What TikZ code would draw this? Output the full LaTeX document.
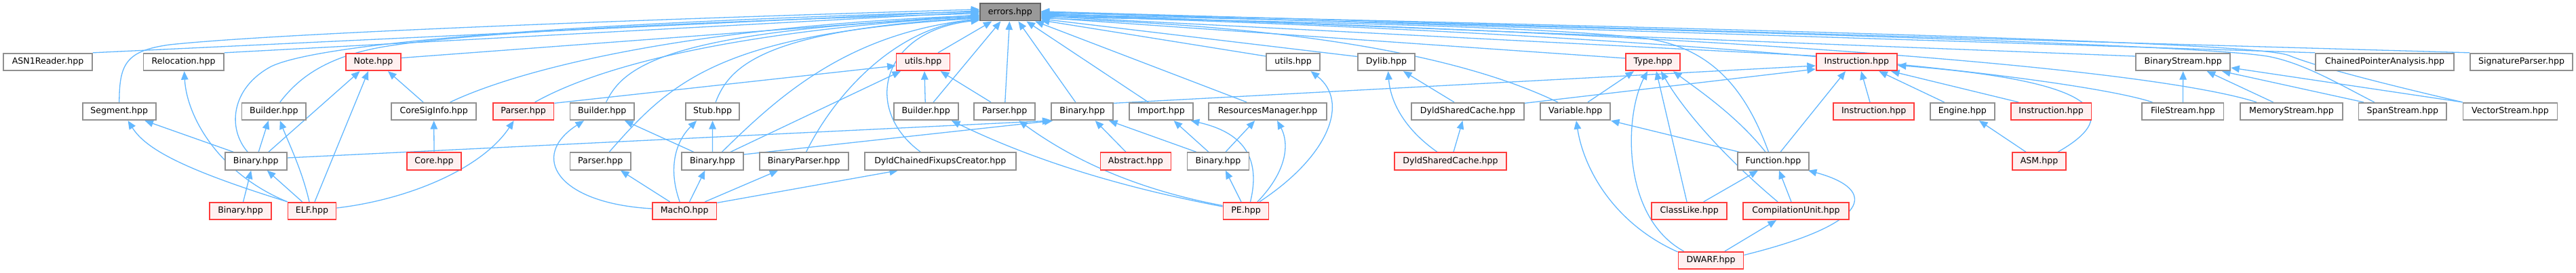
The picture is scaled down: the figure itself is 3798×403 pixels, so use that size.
\documentclass[tikz,border=0pt]{standalone}
\usepackage{fontspec}
\setmainfont{DejaVu Sans}
\usetikzlibrary{arrows.meta,calc}
\pgfdeclarelayer{bg}
\pgfsetlayers{bg,main}
\definecolor{edgeblue}{HTML}{63B8FF}
\definecolor{boxgrey}{HTML}{909090}
\definecolor{boxred}{HTML}{FF3B3B}
\definecolor{boxpink}{HTML}{FFF0F0}
\definecolor{rootfill}{HTML}{999999}
\definecolor{rootline}{HTML}{666666}
\newcommand{\dgfont}{\fontsize{12.6}{15}\selectfont}
\begin{document}
\begin{tikzpicture}[x=1pt,y=-1pt,
  box/.style={draw=boxgrey,line width=1.8pt,fill=white,minimum height=25.5pt,inner sep=0pt,font=\dgfont,text=black},
  redbox/.style={box,draw=boxred,fill=boxpink},
  rootbox/.style={box,draw=rootline,fill=rootfill},
  dep/.style={draw=edgeblue,line width=1.3pt,-{Triangle[length=12.5pt,width=10.5pt]}}]
\useasboundingbox (0,0) rectangle (3798,403);
% row 1
\node[rootbox,minimum width=88.7pt] (errors) at (1489.4,17.85) {errors.hpp};
% row 2
\node[box,minimum width=131pt] (asn) at (70.5,91.5) {ASN1Reader.hpp};
\node[box,minimum width=118.6pt] (reloc) at (270.7,91.5) {Relocation.hpp};
\node[redbox,minimum width=81pt] (note) at (550.5,91.5) {Note.hpp};
\node[redbox,minimum width=79pt] (utilsR) at (1361,91.5) {utils.hpp};
\node[box,minimum width=78.7pt] (utilsP) at (1906.6,91.5) {utils.hpp};
\node[box,minimum width=84pt] (dylib) at (2044,91.5) {Dylib.hpp};
\node[redbox,minimum width=80pt] (type) at (2437,91.5) {Type.hpp};
\node[redbox,minimum width=119.2pt] (instr) at (2737.3,91.5) {Instruction.hpp};
\node[box,minimum width=139.3pt] (bstream) at (3218.7,91.5) {BinaryStream.hpp};
\node[box,minimum width=204pt] (chained) at (3516,91.5) {ChainedPointerAnalysis.hpp};
\node[box,minimum width=151pt] (sigp) at (3717.5,91.5) {SignatureParser.hpp};
% row 3
\node[box,minimum width=108pt] (segment) at (175.8,164.5) {Segment.hpp};
\node[box,minimum width=94.5pt] (builderE) at (403.8,164.5) {Builder.hpp};
\node[box,minimum width=125pt] (coresig) at (639.7,164.5) {CoreSigInfo.hpp};
\node[redbox,minimum width=89.6pt] (parserR) at (771.6,164.5) {Parser.hpp};
\node[box,minimum width=94.5pt] (builderM) at (887.7,164.5) {Builder.hpp};
\node[box,minimum width=79pt] (stub) at (1050.6,164.5) {Stub.hpp};
\node[box,minimum width=95pt] (builderP) at (1365.2,164.5) {Builder.hpp};
\node[box,minimum width=90pt] (parserP) at (1481.3,164.5) {Parser.hpp};
\node[box,minimum width=91pt] (binA) at (1595.7,164.5) {Binary.hpp};
\node[box,minimum width=93.7pt] (import) at (1712,164.5) {Import.hpp};
\node[box,minimum width=173.5pt] (resmgr) at (1869.1,164.5) {ResourcesManager.hpp};
\node[box,minimum width=165.8pt] (dscP) at (2164,164.5) {DyldSharedCache.hpp};
\node[box,minimum width=102.8pt] (variable) at (2322.7,164.5) {Variable.hpp};
\node[redbox,minimum width=119pt] (instrA) at (2762.7,164.5) {Instruction.hpp};
\node[box,minimum width=94.6pt] (engine) at (2893.3,164.5) {Engine.hpp};
\node[redbox,minimum width=118.8pt] (instrB) at (3024.1,164.5) {Instruction.hpp};
\node[box,minimum width=120.2pt] (filestream) at (3218.4,164.5) {FileStream.hpp};
\node[box,minimum width=151pt] (memstream) at (3378.5,164.5) {MemoryStream.hpp};
\node[box,minimum width=129.5pt] (spanstream) at (3542.3,164.5) {SpanStream.hpp};
\node[box,minimum width=139pt] (vecstream) at (3701,164.5) {VectorStream.hpp};
% row 4
\node[box,minimum width=91pt] (binE) at (377.2,238) {Binary.hpp};
\node[redbox,minimum width=80pt] (core) at (640,238) {Core.hpp};
\node[box,minimum width=89.6pt] (parserM) at (885.2,238) {Parser.hpp};
\node[box,minimum width=91pt] (binM) at (1050.4,238) {Binary.hpp};
\node[box,minimum width=130.8pt] (bparser) at (1185.2,238) {BinaryParser.hpp};
\node[box,minimum width=222.6pt] (dcfc) at (1386.3,238) {DyldChainedFixupsCreator.hpp};
\node[redbox,minimum width=104pt] (abstract) at (1674.4,238) {Abstract.hpp};
\node[box,minimum width=91pt] (binP) at (1795.9,238) {Binary.hpp};
\node[redbox,minimum width=165.4pt] (dscR) at (2138.5,238) {DyldSharedCache.hpp};
\node[box,minimum width=105pt] (function) at (2614.5,238) {Function.hpp};
\node[redbox,minimum width=79pt] (asm) at (3006.5,238) {ASM.hpp};
% row 5
\node[redbox,minimum width=91pt] (binR) at (354.6,311.5) {Binary.hpp};
\node[redbox,minimum width=71pt] (elf) at (460,311.5) {ELF.hpp};
\node[redbox,minimum width=94.5pt] (macho) at (1009.2,311.5) {MachO.hpp};
\node[redbox,minimum width=67pt] (pe) at (1837,311.5) {PE.hpp};
\node[redbox,minimum width=110.7pt] (classlike) at (2490.7,311.5) {ClassLike.hpp};
\node[redbox,minimum width=155.8pt] (cu) at (2648,311.5) {CompilationUnit.hpp};
% row 6
\node[redbox,minimum width=96pt] (dwarf) at (2522.5,384.5) {DWARF.hpp};

\begin{pgfonlayer}{bg}
\fill[white] (0,0) rectangle (3798,403);
% ---- into errors, from the left
\draw[dep] (asn.north east) -- ($(errors.west)+(0,-2)$);
\draw[dep] (reloc.north east) -- ($(errors.west)+(0,0)$);
\draw[dep] ($(note.east)+(0,-6)$) -- ($(errors.west)+(0,4)$);
\draw[dep] (segment.north) .. controls (176,95) and (185,75) .. (250,66) .. controls (400,50) and (900,30) .. ($(errors.west)+(0,-4)$);
\draw[dep] ($(binE.north)+(-12,0)$) .. controls (335,190) and (340,130) .. (400,98) .. controls (480,60) and (900,32) .. ($(errors.west)+(0,-1)$);
\draw[dep] ($(builderE.north)+(9,0)$) .. controls (440,115) and (480,85) .. (560,70) .. controls (700,45) and (1100,30) .. ($(errors.west)+(0,2)$);
\draw[dep] ($(coresig.north)+(24,0)$) .. controls (760,105) and (1000,40) .. ($(errors.west)+(0,5)$);
\draw[dep] ($(parserR.north)+(17,0)$) .. controls (870,105) and (1050,48) .. ($(errors.west)+(0,6)$);
\draw[dep] ($(builderM.north)+(6,0)$) .. controls (920,95) and (990,45) .. ($(errors.west)+(0,7)$);
\draw[dep] ($(stub.north)+(4.5,0)$) .. controls (1075,100) and (1120,45) .. ($(errors.west)+(0,8)$);
\draw[dep] ($(parserM.north)+(13,0)$) .. controls (990,120) and (1060,50) .. ($(errors.west)+(0,9)$);
\draw[dep] ($(binM.north)+(14,0)$) .. controls (1150,140) and (1250,50) .. ($(errors.west)+(0,10)$);
\draw[dep] ($(bparser.north)+(3.4,0)$) .. controls (1230,140) and (1320,40) .. ($(errors.west)+(0,11)$);
\draw[dep] ($(dcfc.north)+(-29,0)$) .. controls (1270,160) and (1300,45) .. ($(errors.west)+(0,12)$);
% ---- into errors, from below
\draw[dep] ($(utilsR.north)+(22,0)$) -- ($(errors.south)+(-27,0)$);
\draw[dep] ($(builderP.north)+(11,0)$) -- ($(errors.south)+(-14,0)$);
\draw[dep] ($(parserP.north)+(0.5,0)$) -- ($(errors.south)+(-1,0)$);
\draw[dep] ($(binA.north)+(-10,0)$) -- ($(errors.south)+(12,0)$);
\draw[dep] ($(import.north)+(-19,0)$) -- ($(errors.south)+(24,0)$);
\draw[dep] ($(resmgr.north)+(-31,0)$) -- ($(errors.south)+(37,0)$);
% ---- into errors, from the right
\draw[dep] ($(utilsP.west)+(0,-8.5)$) -- ($(errors.east)+(0,12)$);
\draw[dep] ($(dylib.west)+(0,-8)$) -- ($(errors.east)+(0,10)$);
\draw[dep] ($(variable.north)+(-26,0)$) .. controls (2170,90) and (1950,40) .. ($(errors.east)+(0,9)$);
\draw[dep] ($(type.west)+(0,-5.5)$) -- ($(errors.east)+(0,8)$);
\draw[dep] ($(function.north)+(-7,0)$) .. controls (2575,135) and (2525,68) .. (2420,56) .. controls (2250,37) and (1800,30) .. ($(errors.east)+(0,7)$);
\draw[dep] ($(instr.west)+(0,-9)$) -- ($(errors.east)+(0,6)$);
\draw[dep] ($(bstream.west)+(0,-8.5)$) -- ($(errors.east)+(0,2)$);
\draw[dep] (chained.north west) -- ($(errors.east)+(0,0)$);
\draw[dep] (sigp.north west) -- ($(errors.east)+(0,-1)$);
\draw[dep] ($(filestream.north)+(-45,0)$) .. controls (3080,120) and (2600,55) .. ($(errors.east)+(0,5)$);
\draw[dep] ($(memstream.north)+(-51.5,0)$) .. controls (3200,110) and (2700,55) .. ($(errors.east)+(0,4)$);
\draw[dep] ($(spanstream.north)+(-41.7,0)$) .. controls (3450,125) and (3400,95) .. (3348,84) .. controls (3300,74) and (3000,55) .. ($(errors.east)+(0,3)$);
\draw[dep] (vecstream.north west) .. controls (3520,125) and (3420,100) .. (3375,82) .. controls (3340,68) and (3000,52) .. ($(errors.east)+(0,1)$);
% ---- ELF group
\draw[dep] ($(binE.north)+(-33,0)$) -- ($(segment.south)+(37.7,0)$);
\draw[dep] ($(binE.north)+(4,0)$) -- ($(builderE.south)+(-8,0)$);
\draw[dep] ($(binE.north)+(18.7,0)$) -- ($(note.south)+(-20,0)$);
\draw[dep] ($(elf.north)+(-14.4,0)$) -- ($(binE.south)+(16.6,0)$);
\draw[dep] ($(elf.north)+(4,0)$) -- ($(note.south)+(-7.5,0)$);
\draw[dep] ($(binR.north)+(4,0)$) -- ($(binE.south)+(-7,0)$);
\draw[dep] ($(coresig.north)+(-15.7,0)$) -- ($(note.south)+(21.5,0)$);
\draw[dep] (core.north) -- (coresig.south);
\draw[dep] ($(binE.east)+(0,-5)$) -- (binA.south west);
\draw[dep] (elf.north west) .. controls (270,250) and (215,220) .. ($(segment.south)+(12.8,0)$);
\draw[dep] (elf.north west) .. controls (320,255) and (275,170) .. ($(reloc.south)+(1,0)$);
\draw[dep] ($(elf.north)+(-4,0)$) .. controls (445,250) and (425,210) .. ($(builderE.south)+(9,0)$);
\draw[dep] ($(elf.east)+(0,-4.5)$) .. controls (600,295) and (710,250) .. ($(parserR.south)+(-14,0)$);
\draw[dep] ($(parserR.north east)+(0,1.5)$) -- ($(utilsR.west)+(0,5.5)$);
% ---- MachO group
\draw[dep] ($(macho.west)+(0,-3.5)$) .. controls (820,300) and (780,230) .. ($(builderM.south)+(-26.7,0)$);
\draw[dep] ($(binM.north)+(-27.6,0)$) -- ($(builderM.south)+(33.3,0)$);
\draw[dep] ($(macho.north)+(-7,0)$) .. controls (985,250) and (995,210) .. ($(stub.south)+(-23.5,0)$);
\draw[dep] (binM.north) -- (stub.south);
\draw[dep] ($(macho.north)+(-21.6,0)$) -- ($(parserM.south)+(29.8,0)$);
\draw[dep] ($(macho.north)+(7.4,0)$) -- ($(binM.south)+(-11,0)$);
\draw[dep] ($(macho.north)+(30.2,0)$) -- ($(bparser.south)+(-38,0)$);
\draw[dep] ($(macho.north east)+(0,1.5)$) -- ($(dcfc.south)+(-62.3,0)$);
\draw[dep] ($(binM.north)+(26.6,0)$) -- ($(utilsR.south)+(-33,0)$);
\draw[dep] ($(binM.east)+(0,-10)$) -- ($(binA.south west)+(3,0)$);
% ---- PE group
\draw[dep] ($(builderP.north)+(-1,0)$) -- ($(utilsR.south)+(2,0)$);
\draw[dep] ($(parserP.north)+(-20.3,0)$) -- ($(utilsR.south)+(25.7,0)$);
\draw[dep] ($(pe.west)+(0,-6.5)$) .. controls (1620,270) and (1500,225) .. ($(builderP.south)+(37.8,0)$);
\draw[dep] ($(pe.west)+(0,-8)$) .. controls (1650,275) and (1560,220) .. ($(parserP.south)+(21,0)$);
\draw[dep] ($(pe.north)+(-7,0)$) -- ($(binP.south)+(11,0)$);
\draw[dep] ($(pe.north)+(6.5,0)$) .. controls (1860,230) and (1830,195) .. ($(import.south east)+(-4,0)$);
\draw[dep] ($(pe.north)+(17,0)$) .. controls (1900,250) and (1900,210) .. ($(resmgr.south)+(14,0)$);
\draw[dep] ($(pe.north)+(20,0)$) .. controls (1960,230) and (1990,150) .. ($(utilsP.south)+(26,0)$);
\draw[dep] ($(binP.north)+(-32,0)$) -- ($(binA.south)+(39.3,0)$);
\draw[dep] ($(binP.north)+(-14,0)$) -- ($(import.south)+(18.6,0)$);
\draw[dep] ($(binP.north)+(11,0)$) -- ($(resmgr.south)+(-19,0)$);
\draw[dep] ($(abstract.north)+(-14.4,0)$) -- ($(binA.south)+(19,0)$);
\draw[dep] ($(binA.north east)+(0,1.5)$) -- ($(instr.west)+(0,5.5)$);
% ---- Dylib group
\draw[dep] ($(dscP.north)+(-20,0)$) -- ($(dylib.south)+(25,0)$);
\draw[dep] ($(dscR.north)+(-19.5,0)$) .. controls (2070,190) and (2050,150) .. ($(dylib.south)+(2.6,0)$);
\draw[dep] ($(dscR.north)+(4.5,0)$) -- ($(dscP.south)+(-7.5,0)$);
\draw[dep] ($(dscP.north east)+(0,1.5)$) -- ($(instr.west)+(0,10.5)$);
% ---- DWARF group
\draw[dep] ($(variable.north)+(18.3,0)$) -- ($(type.south)+(-28,0)$);
\draw[dep] ($(function.north)+(-11.5,0)$) .. controls (2560,170) and (2500,130) .. ($(type.south)+(30,0)$);
\draw[dep] ($(classlike.north)+(-3.7,0)$) -- ($(type.south)+(5,0)$);
\draw[dep] ($(cu.north)+(-27,0)$) .. controls (2540,230) and (2480,160) .. ($(type.south)+(12,0)$);
\draw[dep] ($(dwarf.north)+(-40,0)$) .. controls (2390,320) and (2395,170) .. ($(type.south)+(-8,0)$);
\draw[dep] ($(dwarf.north west)+(0,1)$) .. controls (2380,330) and (2335,250) .. ($(variable.south)+(1.3,0)$);
\draw[dep] ($(dwarf.east)+(0,-8)$) .. controls (2760,330) and (2770,280) .. ($(function.south east)+(-2,0)$);
\draw[dep] ($(dwarf.north)+(20.5,0)$) -- ($(cu.south)+(-29,0)$);
\draw[dep] ($(classlike.north)+(21,0)$) -- ($(function.south)+(-22.5,0)$);
\draw[dep] ($(cu.north)+(-7,0)$) -- ($(function.south)+(8.5,0)$);
\draw[dep] ($(function.north west)+(3,0)$) -- (variable.south east);
\draw[dep] ($(function.north)+(10.5,0)$) -- ($(instr.south)+(-16.3,0)$);
% ---- asm group
\draw[dep] ($(instrA.north)+(-5.7,0)$) -- ($(instr.south)+(6.7,0)$);
\draw[dep] ($(engine.north)+(-26.8,0)$) -- ($(instr.south)+(33,0)$);
\draw[dep] ($(instrB.north)+(-48,0)$) -- ($(instr.south)+(50.7,0)$);
\draw[dep] ($(asm.north)+(-19.5,0)$) -- ($(engine.south)+(24.7,0)$);
\draw[dep] ($(asm.north)+(27.5,0)$) .. controls (3130,170) and (3100,120) .. ($(instr.east)+(0,5)$);
% ---- streams
\draw[dep] (filestream.north) -- (bstream.south);
\draw[dep] ($(memstream.north)+(-27,0)$) -- ($(bstream.south)+(35,0)$);
\draw[dep] ($(spanstream.north)+(-57.6,0)$) -- ($(bstream.south)+(57.3,0)$);
\draw[dep] (vecstream.north west) -- ($(bstream.east)+(0,8.5)$);
\end{pgfonlayer}
\end{tikzpicture}
\end{document}
